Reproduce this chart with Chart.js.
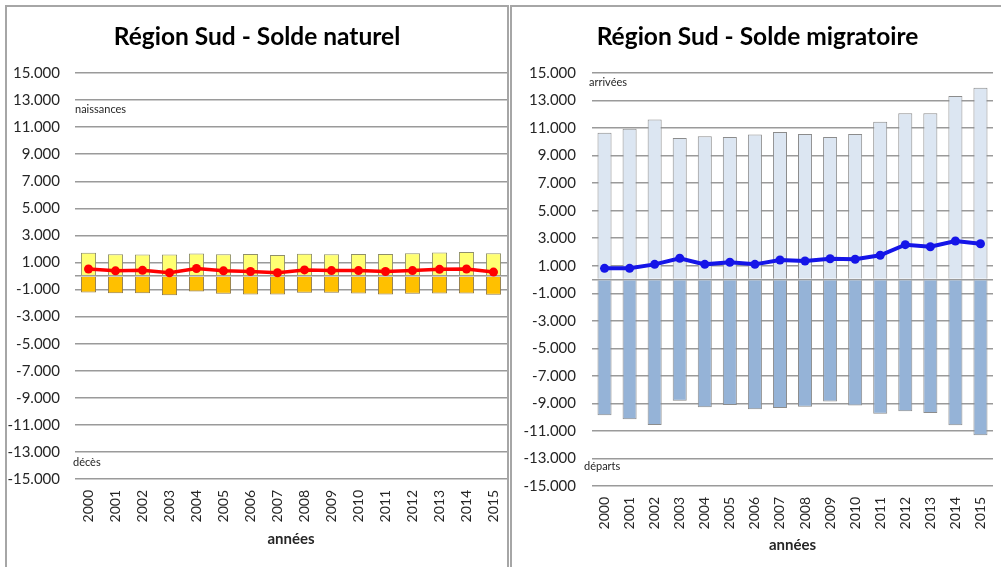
<!DOCTYPE html>
<html lang="fr">
<head>
<meta charset="UTF-8">
<title>Région Sud - Solde naturel et migratoire</title>
<style>
    body {
        margin: 0;
        background: #fff;
        width: 1001px;
        height: 567px;
        overflow: hidden;
        position: relative;
        font-family: Lato, 'Open Sans', sans-serif;
    }
    .panel {
        position: absolute;
        top: 5px;
        height: 600px;
        border: 2px solid #a6a6a6;
        box-sizing: border-box;
        overflow: hidden;
    }
    #p1 { left: 5px; width: 504px; }
    #p2 { left: 510px; width: 495px; }
    .panel h2 {
        position: absolute;
        left: 0;
        right: 0;
        top: 15px;
        margin: 0;
        text-align: center;
        font: bold 24.5px/28px Lato, sans-serif;
        color: #000;
    }
    .panel canvas { position: absolute; top: 0; left: 0; }
</style>
</head>
<body>
<div class="panel" id="p1">
    <canvas id="c1" width="500" height="560"></canvas>
    <h2>Région Sud - Solde naturel</h2>
</div>
<div class="panel" id="p2">
    <canvas id="c2" width="489" height="560"></canvas>
    <h2>Région Sud - Solde migratoire</h2>
</div>

<script src="https://cdn.jsdelivr.net/npm/chart.js"></script>
<script>
    const years = ['2000', '2001', '2002', '2003', '2004', '2005', '2006', '2007',
                   '2008', '2009', '2010', '2011', '2012', '2013', '2014', '2015'];

    // solde naturel
    const naissances = [1720, 1600, 1580, 1580, 1660, 1600, 1620, 1560, 1650, 1600, 1620, 1620, 1690, 1730, 1780, 1680];
    const deces = [-1220, -1270, -1270, -1420, -1150, -1320, -1370, -1370, -1240, -1240, -1300, -1370, -1320, -1300, -1290, -1390];
    const soldeNaturel = [520, 380, 420, 240, 550, 380, 330, 240, 450, 400, 400, 330, 400, 490, 520, 290];

    // solde migratoire
    const arrivees = [10660, 10950, 11630, 10280, 10400, 10350, 10540, 10710, 10570, 10350, 10570, 11460, 12070, 12070, 13330, 13930];
    const departs = [-9860, -10150, -10570, -8800, -9280, -9110, -9430, -9330, -9240, -8870, -9160, -9750, -9570, -9690, -10590, -11310];
    const soldeMigratoire = [810, 810, 1100, 1540, 1100, 1250, 1100, 1420, 1340, 1510, 1470, 1760, 2530, 2380, 2800, 2600];

    const yTicks = [15000, 13000, 11000, 9000, 7000, 5000, 3000, 1000,
                    -1000, -3000, -5000, -7000, -9000, -11000, -13000, -15000];

    const textColor = '#262626';
    const gridColor = '#9a9a9a';

    function fmt(v) {
        const s = Math.abs(v).toString().replace(/\B(?=(\d{3})+(?!\d))/g, '.');
        return (v < 0 ? '-' : '') + s;
    }

    // small texts inside the plot ("naissances", "décès", ...)
    function notesPlugin(notes) {
        return {
            id: 'notes',
            afterDraw(chart) {
                const ctx = chart.ctx;
                const y = chart.scales.y;
                ctx.save();
                ctx.font = '11px Lato, sans-serif';
                ctx.fillStyle = textColor;
                ctx.textBaseline = 'top';
                ctx.textAlign = 'left';
                notes.forEach(n => {
                    ctx.fillText(n.text, chart.chartArea.left + n.dx, y.getPixelForValue(n.value) + n.dy);
                });
                ctx.restore();
            }
        };
    }

    function makeChart(id, cfg) {
        new Chart(document.getElementById(id), {
            data: {
                labels: years,
                datasets: [
                    {
                        type: 'line',
                        data: cfg.net,
                        borderColor: cfg.lineColor,
                        backgroundColor: cfg.lineColor,
                        borderWidth: cfg.lineWidth,
                        pointRadius: 4.5,
                        pointBorderWidth: 0,
                        pointBackgroundColor: cfg.lineColor,
                        tension: 0,
                        order: 0
                    },
                    {
                        type: 'bar',
                        data: cfg.pos,
                        backgroundColor: cfg.posColor,
                        borderColor: cfg.posBorder,
                        borderWidth: 1,
                        grouped: false,
                        barPercentage: 0.56,
                        categoryPercentage: 1,
                        order: 1
                    },
                    {
                        type: 'bar',
                        data: cfg.neg,
                        backgroundColor: cfg.negColor,
                        borderColor: cfg.negBorder,
                        borderWidth: 1,
                        grouped: false,
                        barPercentage: 0.56,
                        categoryPercentage: 1,
                        order: 1
                    }
                ]
            },
            options: {
                responsive: false,
                animation: false,
                layout: {
                    autoPadding: false,
                    padding: { top: 66, right: cfg.padRight, bottom: 0, left: 0 }
                },
                plugins: {
                    legend: { display: false },
                    tooltip: { enabled: false }
                },
                scales: {
                    x: {
                        grid: { display: false, drawTicks: false },
                        border: { display: false },
                        afterFit: s => {
                            s.height = cfg.xHeight;
                            s.paddingLeft = 0;
                            s.paddingRight = 0;
                        },
                        ticks: {
                            minRotation: 90,
                            maxRotation: 90,
                            autoSkip: false,
                            padding: 11,
                            color: textColor,
                            font: { family: 'Lato', size: 14 }
                        },
                        title: {
                            display: true,
                            text: 'années',
                            color: textColor,
                            font: { family: 'Lato', size: 15, weight: 'bold' },
                            padding: { top: 0, bottom: cfg.titlePad }
                        }
                    },
                    y: {
                        min: -15000,
                        max: 15000,
                        afterBuildTicks: s => {
                            s.ticks = yTicks.concat([0]).sort((a, b) => a - b).map(v => ({ value: v }));
                        },
                        afterFit: s => { s.width = cfg.yWidth; },
                        border: { display: false },
                        grid: { color: gridColor, lineWidth: 1.5, drawTicks: false },
                        ticks: {
                            padding: cfg.yPad,
                            color: textColor,
                            font: { family: 'Lato', size: 15 },
                            callback: v => (v === 0 ? '' : fmt(v))
                        }
                    }
                }
            },
            plugins: [notesPlugin(cfg.notes)]
        });
    }

    makeChart('c1', {
        pos: naissances, neg: deces, net: soldeNaturel,
        posColor: '#ffff72', posBorder: '#8f8f6a',
        negColor: '#ffc000', negBorder: '#8f7a4a',
        lineColor: '#ff0000', lineWidth: 3.5,
        padRight: 0, yWidth: 68, yPad: 15, xHeight: 88, titlePad: 19,
        notes: [
            { text: 'naissances', value: 13000, dx: 0, dy: 4 },
            { text: 'décès', value: -13000, dx: -2, dy: 5 }
        ]
    });

    makeChart('c2', {
        pos: arrivees, neg: departs, net: soldeMigratoire,
        posColor: '#dce6f2', posBorder: '#8c8c8c',
        negColor: '#95b3d7', negBorder: '#8c8c8c',
        lineColor: '#1515e8', lineWidth: 4,
        padRight: 8, yWidth: 80, yPad: 16, xHeight: 81, titlePad: 13,
        notes: [
            { text: 'arrivées', value: 15000, dx: -3, dy: 4 },
            { text: 'départs', value: -13000, dx: -8, dy: 2 }
        ]
    });
</script>
</body>
</html>
